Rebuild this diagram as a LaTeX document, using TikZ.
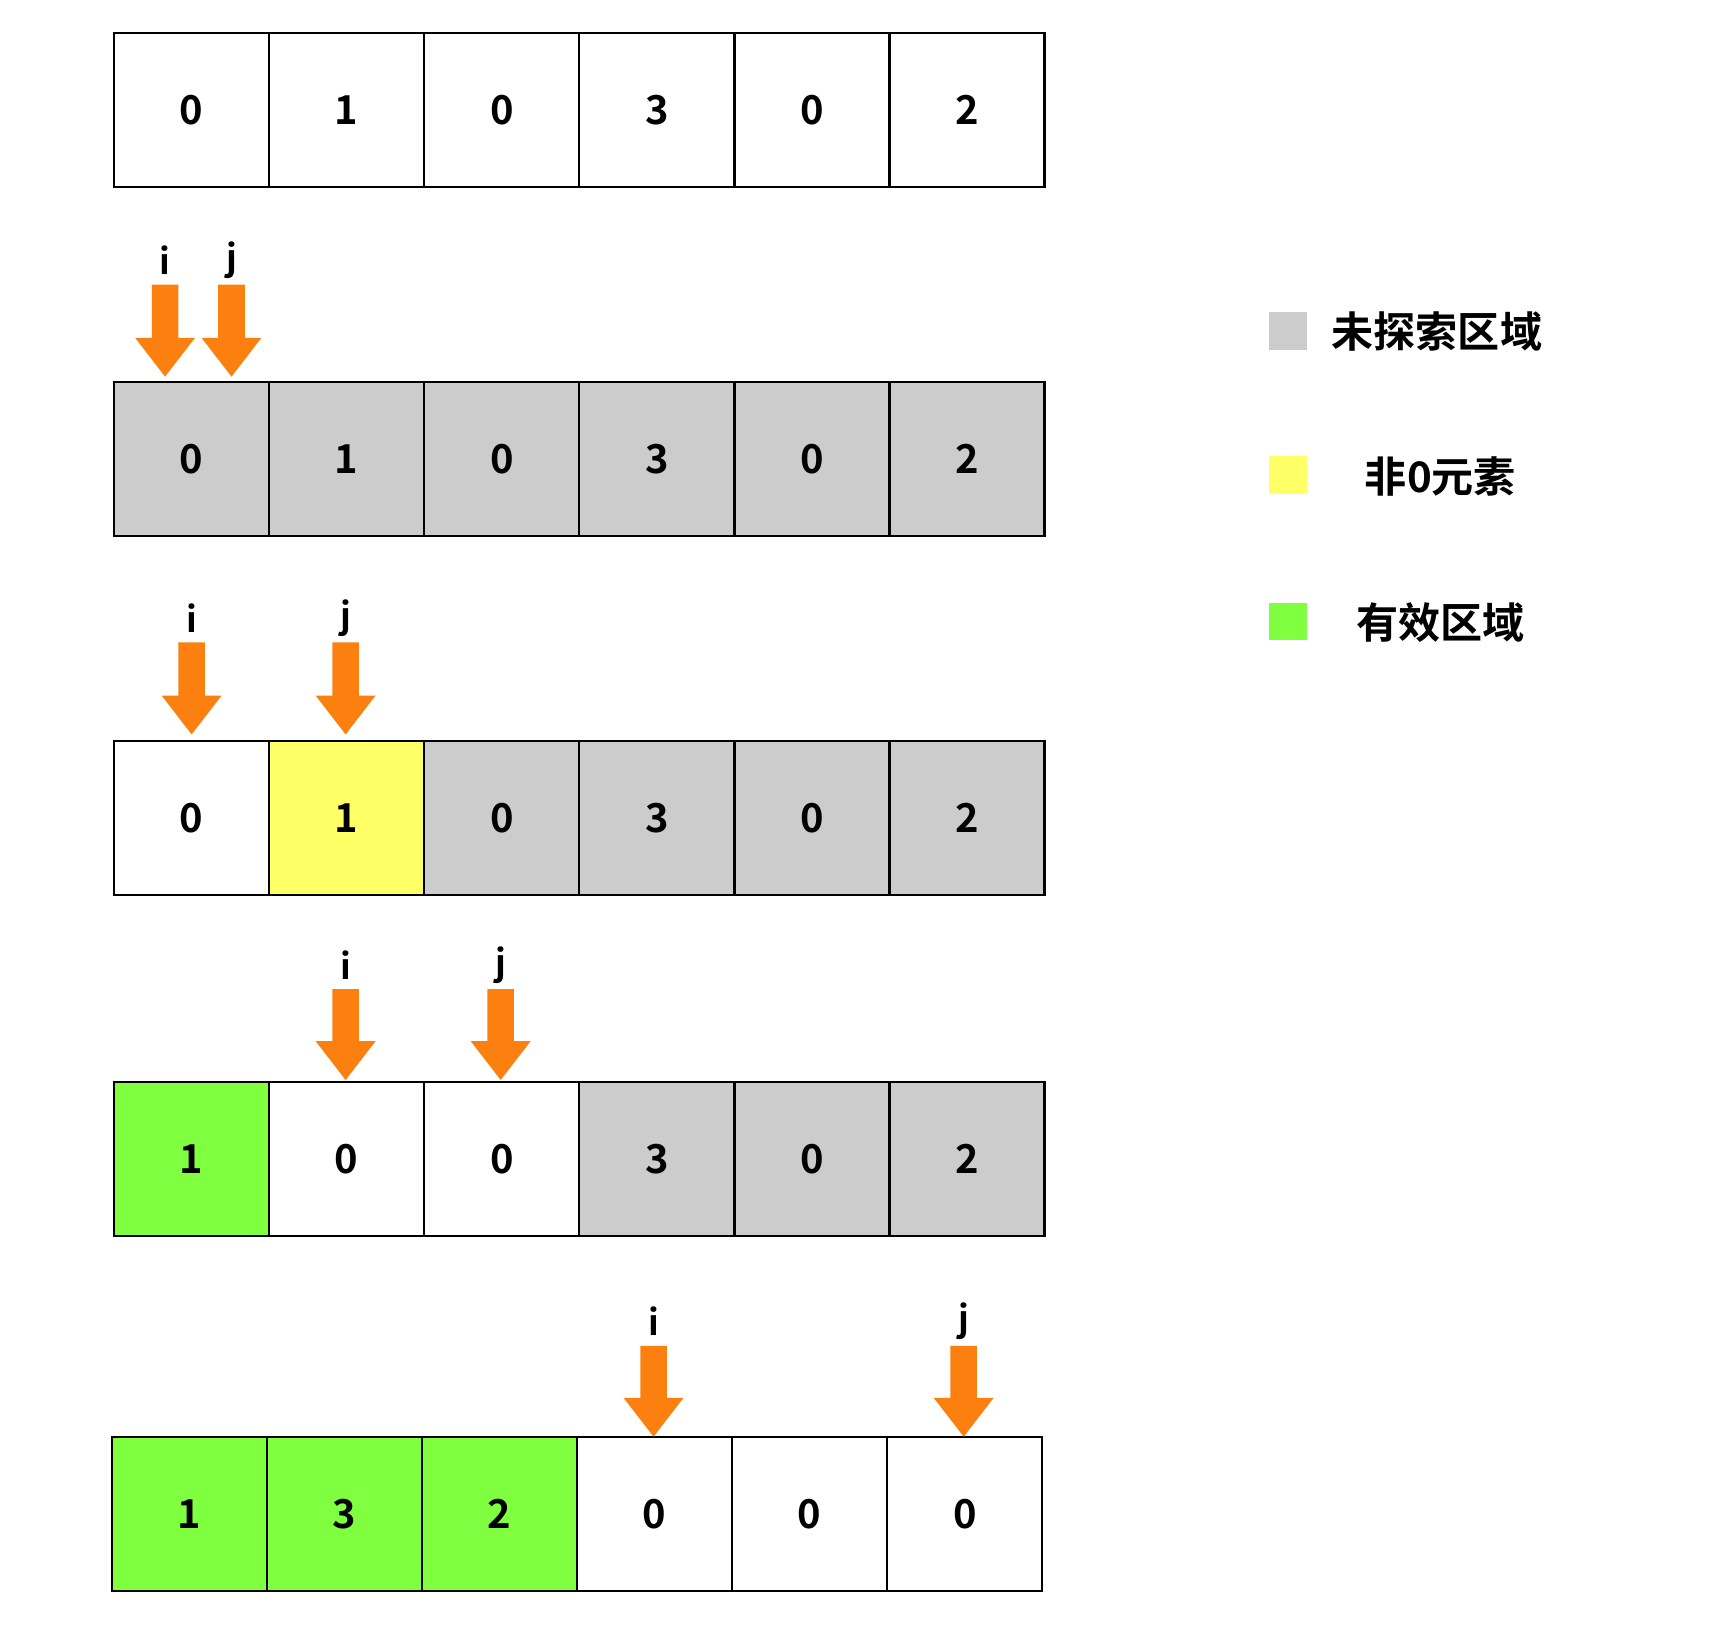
\documentclass[tikz,border=0pt]{standalone}
\usepackage{fontspec}
\setmainfont{Noto Sans CJK SC}[BoldFont={* Bold}]
\definecolor{gr}{HTML}{CCCCCC}
\definecolor{ye}{HTML}{FFFF66}
\definecolor{gn}{HTML}{80FF40}
\definecolor{or}{HTML}{FC800F}
\begin{document}
\begin{tikzpicture}[x=1pt,y=-1pt,
  cell/.style={draw=black,line width=2pt,minimum width=140pt,minimum height=139pt,inner sep=0,font=\fontsize{36}{40}\selectfont\bfseries},
  lbl/.style={font=\fontsize{32}{36}\selectfont\bfseries,inner sep=0},
  leg/.style={font=\fontsize{38}{42}\selectfont\bfseries,inner sep=0,anchor=west},
  sq/.style={minimum size=34pt,inner sep=0}]
\useasboundingbox (0,0) rectangle (1560,1470);
\newcommand\arr[4]{% x, top, tip, label
  \fill[or] (#1-12,#2) -- (#1+12,#2) -- (#1+12,#3-35) -- (#1+27,#3-35) -- (#1,#3) -- (#1-27,#3-35) -- (#1-12,#3-35) -- cycle;
  \node[lbl] (#4#1) at (#1,#2-22) {#4};}
\newcommand\row[8]{% name, x0, yc, then fill specs
  }
% row 1
\foreach \v [count=\k] in {0,1,0,3,0,2}
  \node[cell,fill=white] (a\k) at (103+70+140*\k-140,99.5) {\v};
% row 2
\foreach \v [count=\k] in {0,1,0,3,0,2}
  \node[cell,fill=gr] (b\k) at (103+70+140*\k-140,414.5) {\v};
% row 3
\foreach \v/\c [count=\k] in {0/white,1/ye,0/gr,3/gr,0/gr,2/gr}
  \node[cell,fill=\c] (c\k) at (103+70+140*\k-140,738.5) {\v};
% row 4
\foreach \v/\c [count=\k] in {1/gn,0/white,0/white,3/gr,0/gr,2/gr}
  \node[cell,fill=\c] (d\k) at (103+70+140*\k-140,1046.5) {\v};
% row 5
\foreach \v/\c [count=\k] in {1/gn,3/gn,2/gn,0/white,0/white,0/white}
  \node[cell,fill=\c] (e\k) at (101+70+140*\k-140,1366.5) {\v};
\arr{149}{257}{340}{i}\arr{209}{257}{340}{j}
\arr{173}{580}{663}{i}\arr{312}{580}{663}{j}
\arr{312}{893}{975}{i}\arr{452}{893}{975}{j}
\arr{590}{1215}{1297}{i}\arr{870}{1215}{1297}{j}
% legend
\node[sq,fill=gr] (l1) at (1163,299) {};
\node[sq,fill=ye] (l2) at (1163,429) {};
\node[sq,fill=gn] (l3) at (1163,561) {};
\node[leg] (t1) at (1202,299) {未探索区域};
\node[leg] (t2) at (1232,430) {非0元素};
\node[leg] (t3) at (1224,562) {有效区域};
\end{tikzpicture}
\end{document}
